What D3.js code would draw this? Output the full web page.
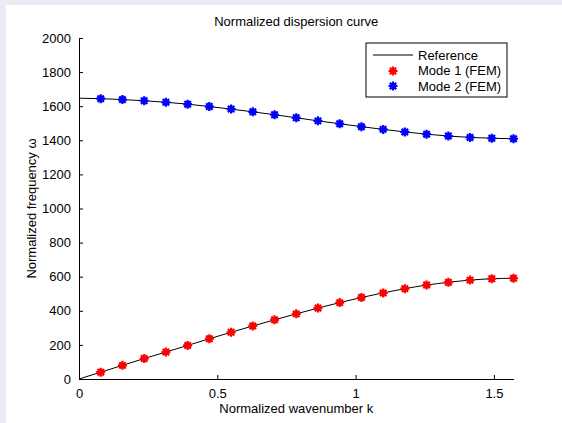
<!DOCTYPE html>
<html>
<head>
<meta charset="utf-8">
<script src="https://cdn.jsdelivr.net/npm/d3@7"></script>
<style>
  html, body { margin: 0; padding: 0; background: #ebebf5; }
  svg { display: block; }
  text { font-family: "Liberation Sans", Arial, Helvetica, sans-serif; fill: #000; }
</style>
</head>
<body>
<script>
const width = 562;
const height = 423;

// wavenumbers of the FEM samples (k = n*pi/40)
const kValues = [0.0785, 0.1571, 0.2356, 0.3142, 0.3927, 0.4712, 0.5498, 0.6283, 0.7069, 0.7854,
  0.8639, 0.9425, 1.0210, 1.0996, 1.1781, 1.2566, 1.3352, 1.4137, 1.4923, 1.5708];
const mode1 = [40, 80, 120, 158, 197, 236, 274, 311, 347, 382,
  416, 448, 478, 505, 530, 551, 567, 580, 588, 591];
const mode2 = [1644, 1639, 1632, 1623, 1612, 1598, 1583, 1567, 1550, 1532,
  1514, 1497, 1480, 1464, 1449, 1436, 1425, 1417, 1412, 1409];
// reference curve values at k = 0
const refStart = [0, 1647];
const xTicks = [0, 0.5, 1, 1.5];
const yTicks = [0, 200, 400, 600, 800, 1000, 1200, 1400, 1600, 1800, 2000];

const margin = { left: 79, top: 38, right: 562 - 513.5, bottom: 423 - 379 };
const fontSize = 13;

const svg = d3.create("svg").attr("width", width).attr("height", height);

// white figure area
svg.append("rect").attr("x", 6).attr("y", 5).attr("width", width - 6).attr("height", height - 5).attr("fill", "#fff");

const x = d3.scaleLinear([0, Math.PI / 2], [margin.left, width - margin.right]);
const y = d3.scaleLinear([0, 2000], [height - margin.bottom, margin.top]);

const refLine = d3.line().x((d) => x(d[0])).y((d) => y(d[1])).curve(d3.curveMonotoneX);

const ref1 = [[0, refStart[0]], ...kValues.map((k, i) => [k, mode1[i]])];
const ref2 = [[0, refStart[1]], ...kValues.map((k, i) => [k, mode2[i]])];

const g = svg.append("g");

g.selectAll("path.ref")
  .data([ref1, ref2])
  .join("path")
  .attr("class", "ref")
  .attr("d", refLine)
  .attr("fill", "none")
  .attr("stroke", "#000")
  .attr("stroke-width", 1);

// MATLAB style '*' marker
function star(sel, color) {
  sel.append("path")
    .attr("d", "M-4.5,0H4.5M0,-4.5V4.5M-3.2,-3.2L3.2,3.2M-3.2,3.2L3.2,-3.2")
    .attr("stroke", color)
    .attr("stroke-width", 2.2)
    .attr("fill", "none");
  sel.append("circle").attr("r", 3.2).attr("fill", color);
}

g.selectAll("g.m1")
  .data(kValues.map((k, i) => [k, mode1[i]]))
  .join("g")
  .attr("class", "m1")
  .attr("transform", (d) => `translate(${x(d[0])},${y(d[1])})`)
  .call(star, "#ff0000");

g.selectAll("g.m2")
  .data(kValues.map((k, i) => [k, mode2[i]]))
  .join("g")
  .attr("class", "m2")
  .attr("transform", (d) => `translate(${x(d[0])},${y(d[1])})`)
  .call(star, "#0000ff");

// axes: ticks point inward, no box
const xAxis = svg.append("g")
  .attr("transform", `translate(0,${height - margin.bottom})`)
  .call(d3.axisBottom(x).tickValues(xTicks).tickSizeInner(-4).tickSizeOuter(0).tickPadding(10).tickFormat(d3.format("")));
const yAxis = svg.append("g")
  .attr("transform", `translate(${margin.left},0)`)
  .call(d3.axisLeft(y).tickValues(yTicks).tickSizeInner(-4).tickSizeOuter(0).tickPadding(8).tickFormat(d3.format("")));

[xAxis, yAxis].forEach((a) => {
  a.select(".domain").attr("stroke", "#000");
  a.selectAll(".tick line").attr("stroke", "#000");
  a.selectAll(".tick text").attr("font-size", fontSize).attr("font-family", "Liberation Sans, Arial, sans-serif").attr("fill", "#000");
});

svg.append("text")
  .attr("x", (x.range()[0] + x.range()[1]) / 2)
  .attr("y", 26)
  .attr("text-anchor", "middle")
  .attr("font-size", fontSize)
  .text("Normalized dispersion curve");

svg.append("text")
  .attr("x", (x.range()[0] + x.range()[1]) / 2)
  .attr("y", 413)
  .attr("text-anchor", "middle")
  .attr("font-size", fontSize)
  .text("Normalized wavenumber k");

svg.append("text")
  .attr("transform", `translate(36,${(y.range()[0] + y.range()[1]) / 2}) rotate(-90)`)
  .attr("text-anchor", "middle")
  .attr("font-size", fontSize)
  .text("Normalized frequency ω");

// legend
const legend = svg.append("g").attr("transform", "translate(366,43)");
legend.append("rect")
  .attr("width", 141).attr("height", 54)
  .attr("fill", "#fff").attr("stroke", "#000").attr("stroke-width", 1);
legend.append("line").attr("x1", 7).attr("x2", 47).attr("y1", 12).attr("y2", 12).attr("stroke", "#000");
legend.append("g").attr("transform", "translate(27,28)").call(star, "#ff0000");
legend.append("g").attr("transform", "translate(27,43)").call(star, "#0000ff");
legend.selectAll("text.lbl")
  .data(["Reference", "Mode 1 (FEM)", "Mode 2 (FEM)"])
  .join("text")
  .attr("class", "lbl")
  .attr("x", 52)
  .attr("y", (d, i) => 16.5 + i * 15.5)
  .attr("font-size", fontSize)
  .text((d) => d);

document.body.appendChild(svg.node());
</script>
</body>
</html>
